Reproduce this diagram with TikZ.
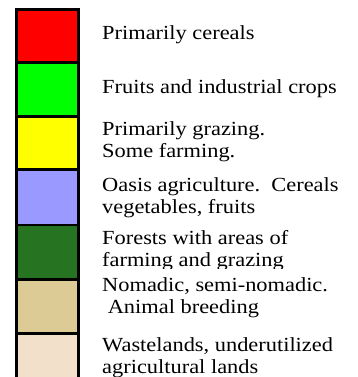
\documentclass[tikz,border=0pt]{standalone}
\usepackage{fontspec}
\setmainfont[FakeStretch=1.12]{Liberation Serif}
\usepackage{tikz}

\definecolor{cerealred}{HTML}{FF0000}
\definecolor{fruitgreen}{HTML}{00FF00}
\definecolor{grazeyellow}{HTML}{FFFF00}
\definecolor{oasisblue}{HTML}{9999FF}
\definecolor{forestgreen}{HTML}{267321}
\definecolor{nomadtan}{HTML}{DDCB96}
\definecolor{wastebeige}{HTML}{F2E0CA}

\begin{document}
\begin{tikzpicture}[x=1pt,y=-1pt]
	\tikzset{legbox/.style={draw=black,line width=2.7pt},
		legtext/.style={anchor=base west,align=left,inner sep=0pt,font=\fontsize{20}{22}\selectfont}}
	
	\useasboundingbox (0,0) rectangle (358,377);
	\clip (0,0) rectangle (358,377);
	
	% colour boxes
	\filldraw[legbox,fill=cerealred] (16.3,9.7) rectangle (78.7,62.2);
	\filldraw[legbox,fill=fruitgreen] (16.3,62.2) rectangle (78.7,116.2);
	\filldraw[legbox,fill=grazeyellow] (16.3,116.2) rectangle (78.7,169.5);
	\filldraw[legbox,fill=oasisblue] (16.3,169.5) rectangle (78.7,225);
	\filldraw[legbox,fill=forestgreen] (16.3,225) rectangle (78.7,279.5);
	\filldraw[legbox,fill=nomadtan] (16.3,279.5) rectangle (78.7,333.8);
	\filldraw[legbox,fill=wastebeige] (16.3,333.8) rectangle (78.7,390);
	
	% labels (base of a two-line node is its last line)
	\node[legtext] (cereals) at (102,40) {Primarily cereals};
	\node[legtext] (fruits) at (102,93.3) {Fruits and industrial crops};
	\node[legtext] (grazing) at (102,157.7) {Primarily grazing.\\Some farming.};
	\node[legtext] (oasis) at (102,213.3) {Oasis agriculture.\ \ Cereals\\vegetables, fruits};
	\begin{scope}
		\clip (90,225) rectangle (358,268.3);
		\node[legtext] (forests) at (102,266.7) {Forests with areas of\\farming and grazing};
	\end{scope}
	\node[legtext] (nomadic) at (102,313.3) {Nomadic, semi-nomadic.\\\ Animal breeding};
	\node[legtext] (waste) at (102,373.3) {Wastelands, underutilized\\agricultural lands};
	
\end{tikzpicture}
\end{document}
